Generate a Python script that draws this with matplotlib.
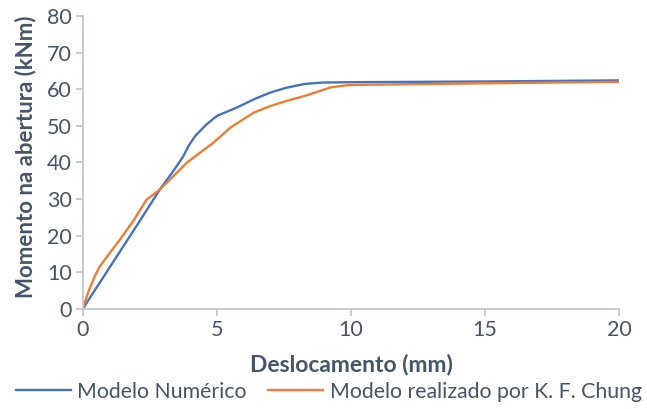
import matplotlib
matplotlib.use("Agg")
import matplotlib.pyplot as plt

# --- dados ---
desloc_num = [0, 1.0, 2.0, 2.875, 3.4, 3.75, 3.95, 4.19, 4.6, 5.0, 5.75, 6.4, 7.0, 7.6, 8.25, 8.9, 10, 15, 20]
mom_num = [0, 11.3, 22.6, 32.6, 37.9, 41.7, 44.6, 47.2, 50.3, 52.7, 55.0, 57.3, 59.1, 60.4, 61.4, 61.8, 61.9, 62.1, 62.4]

desloc_chung = [0, 0.2, 0.44, 0.625, 1.0, 1.375, 1.9, 2.375, 2.875, 3.4, 3.875, 4.4, 4.875, 5.5, 6.375, 7.0, 7.6, 8.25, 8.8, 9.25, 9.875, 10.5, 15, 20]
mom_chung = [0, 4.5, 8.8, 11.5, 15.2, 18.8, 24.2, 29.8, 32.6, 36.4, 39.9, 42.8, 45.4, 49.5, 53.6, 55.4, 56.8, 58.1, 59.4, 60.5, 61.1, 61.2, 61.6, 62.0]

x_ticks = [0, 5, 10, 15, 20]
y_ticks = [0, 10, 20, 30, 40, 50, 60, 70, 80]

plt.rcParams['font.family'] = ['Lato', 'DejaVu Sans']

texto = '#44546A'
eixo = '#BFC6D4'

fig = plt.figure(figsize=(6.47, 4.09), dpi=100)
ax = fig.add_axes([0.128, 0.245, 0.829, 0.716])

ax.plot(desloc_num, mom_num, color='#4472C4', lw=1.7, label='Modelo Numérico')
ax.plot(desloc_chung, mom_chung, color='#ED7D31', lw=1.7, label='Modelo realizado por K. F. Chung')

ax.set_xlim(0, 20)
ax.set_ylim(0, 80)
ax.set_xticks(x_ticks)
ax.set_yticks(y_ticks)

for s in ['top', 'right']:
    ax.spines[s].set_visible(False)
for s in ['left', 'bottom']:
    ax.spines[s].set_color(eixo)
    ax.spines[s].set_linewidth(1.3)

ax.tick_params(axis='both', colors=eixo, length=5, width=1.3, labelsize=15.5, labelcolor=texto, pad=3)

ax.set_xlabel('Deslocamento (mm)', fontsize=16.5, fontweight='bold', color=texto)
ax.set_ylabel('Momento na abertura (kNm)', fontsize=16, fontweight='bold', color=texto)
ax.xaxis.set_label_coords(0.5, -0.152)
ax.yaxis.set_label_coords(-0.086, 0.52)

leg = fig.legend(loc='center', bbox_to_anchor=(0.508, 0.042), ncol=2, frameon=False,
                 fontsize=15.3, handlelength=2.6, columnspacing=1.0, handletextpad=0.3,
                 borderpad=0, borderaxespad=0)
for t in leg.get_texts():
    t.set_color(texto)

fig.savefig('out.png', dpi=100)
